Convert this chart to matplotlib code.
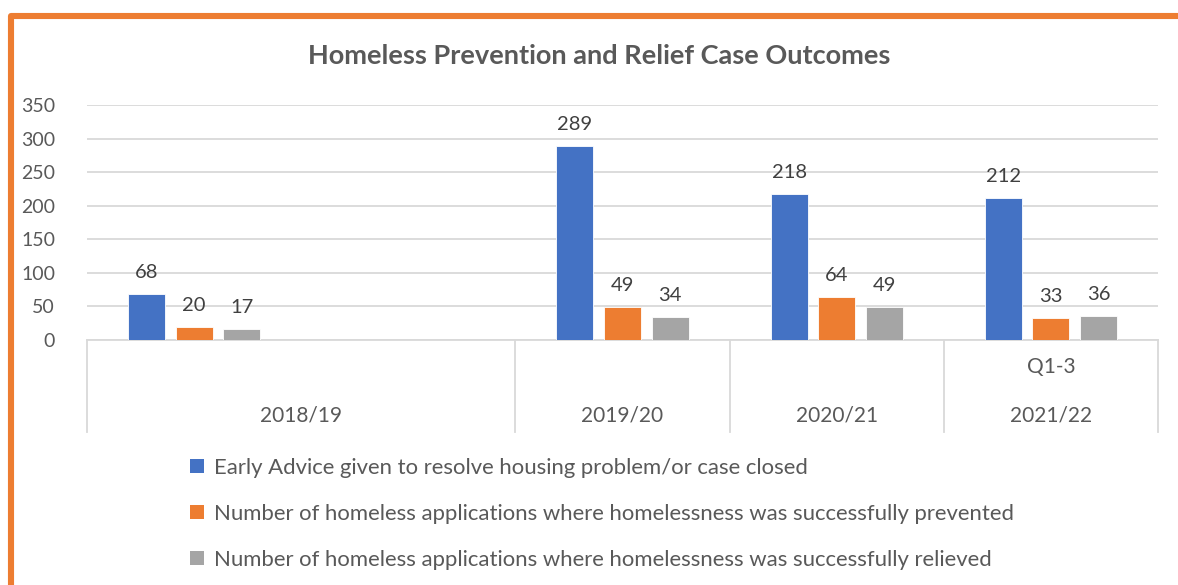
import matplotlib
matplotlib.use("Agg")
import matplotlib.pyplot as plt
import numpy as np
from matplotlib.patches import Patch, Rectangle
from matplotlib.lines import Line2D
from matplotlib.transforms import blended_transform_factory

plt.rcParams["font.family"] = ["Lato", "DejaVu Sans"]

# Chart data (one empty slot keeps 2018/19 twice as wide, as in the original)
sub_labels = ["", "", "", "", "Q1-3"]
years = ["2018/19", "2019/20", "2020/21", "2021/22"]
year_spans = [2, 1, 1, 1]
early_advice = [68, np.nan, 289, 218, 212]
prevented = [20, np.nan, 49, 64, 33]
relieved = [17, np.nan, 34, 49, 36]
series_names = ["Early Advice given to resolve housing problem/or case closed",
                "Number of homeless applications where homelessness was successfully prevented",
                "Number of homeless applications where homelessness was successfully relieved"]
colors = ["#4472C4", "#ED7D31", "#A5A5A5"]

W, H = 1178, 585
fig = plt.figure(figsize=(W / 100, H / 100), dpi=100)

def fx(px):
    return px / W

def fy(py):
    return 1 - py / H

ax = fig.add_axes([fx(87), fy(340), fx(1158) - fx(87), fy(105) - fy(340)])

x = np.arange(len(sub_labels))
bw = 0.173
step = 0.222
for i, (vals, c) in enumerate(zip([early_advice, prevented, relieved], colors)):
    xs = x + (i - 1) * step
    ax.bar(xs, vals, width=bw, color=c, edgecolor="white", linewidth=0.6, zorder=3)
    for xi, v in zip(xs, vals):
        if np.isnan(v):
            continue
        ax.annotate(f"{v:.0f}", (xi, v), xytext=(0, 11.5), textcoords="offset points",
                    ha="center", va="baseline", fontsize=14.5, color="#404040")

ax.set_xlim(-0.5, len(sub_labels) - 0.5)
ax.set_ylim(0, 350)
ax.set_yticks(np.arange(0, 351, 50))
ax.yaxis.grid(True, color="#D9D9D9", linewidth=1.3, zorder=0)
ax.set_axisbelow(True)
ax.tick_params(axis="y", length=0, pad=23, labelsize=14, labelcolor="#595959")
ax.set_xticks([])
for s in ["top", "right", "left"]:
    ax.spines[s].set_visible(False)
ax.spines["bottom"].set_color("#D9D9D9")
ax.spines["bottom"].set_linewidth(1.3)

# multi-level category axis
tr = blended_transform_factory(ax.transData, fig.transFigure)
edges = np.concatenate([[0], np.cumsum(year_spans)]) - 0.5
for e in edges:
    fig.add_artist(Line2D([e, e], [fy(340), fy(432)], transform=tr,
                          color="#D9D9D9", linewidth=1.3))
for xi, lab in zip(x, sub_labels):
    if lab:
        fig.text(xi, fy(367), lab, transform=tr, ha="center", va="center",
                 fontsize=15, color="#595959")
for y_lab, a, b in zip(years, edges[:-1], edges[1:]):
    fig.text((a + b) / 2, fy(415), y_lab, transform=tr, ha="center", va="center",
             fontsize=15, color="#595959")

fig.text(fx(599), fy(56), "Homeless Prevention and Relief Case Outcomes",
         ha="center", va="center", fontsize=19.5, fontweight="bold", color="#595959")

handles = [Patch(facecolor=c, edgecolor="none") for c in colors]
leg = fig.legend(handles, series_names, loc="upper left",
                 bbox_to_anchor=(fx(190), fy(458)), frameon=False,
                 fontsize=15.9, labelcolor="#595959", handlelength=0.62,
                 handleheight=0.62, handletextpad=0.45, labelspacing=1.17,
                 borderaxespad=0, borderpad=0)

# orange frame round the chart
fig.add_artist(Rectangle((fx(11), fy(620)), fx(1220) - fx(11), fy(16) - fy(620),
                         transform=fig.transFigure, fill=False,
                         edgecolor="#ED7D31", linewidth=4.4, joinstyle="round"))

fig.savefig("out.png", dpi=100)
